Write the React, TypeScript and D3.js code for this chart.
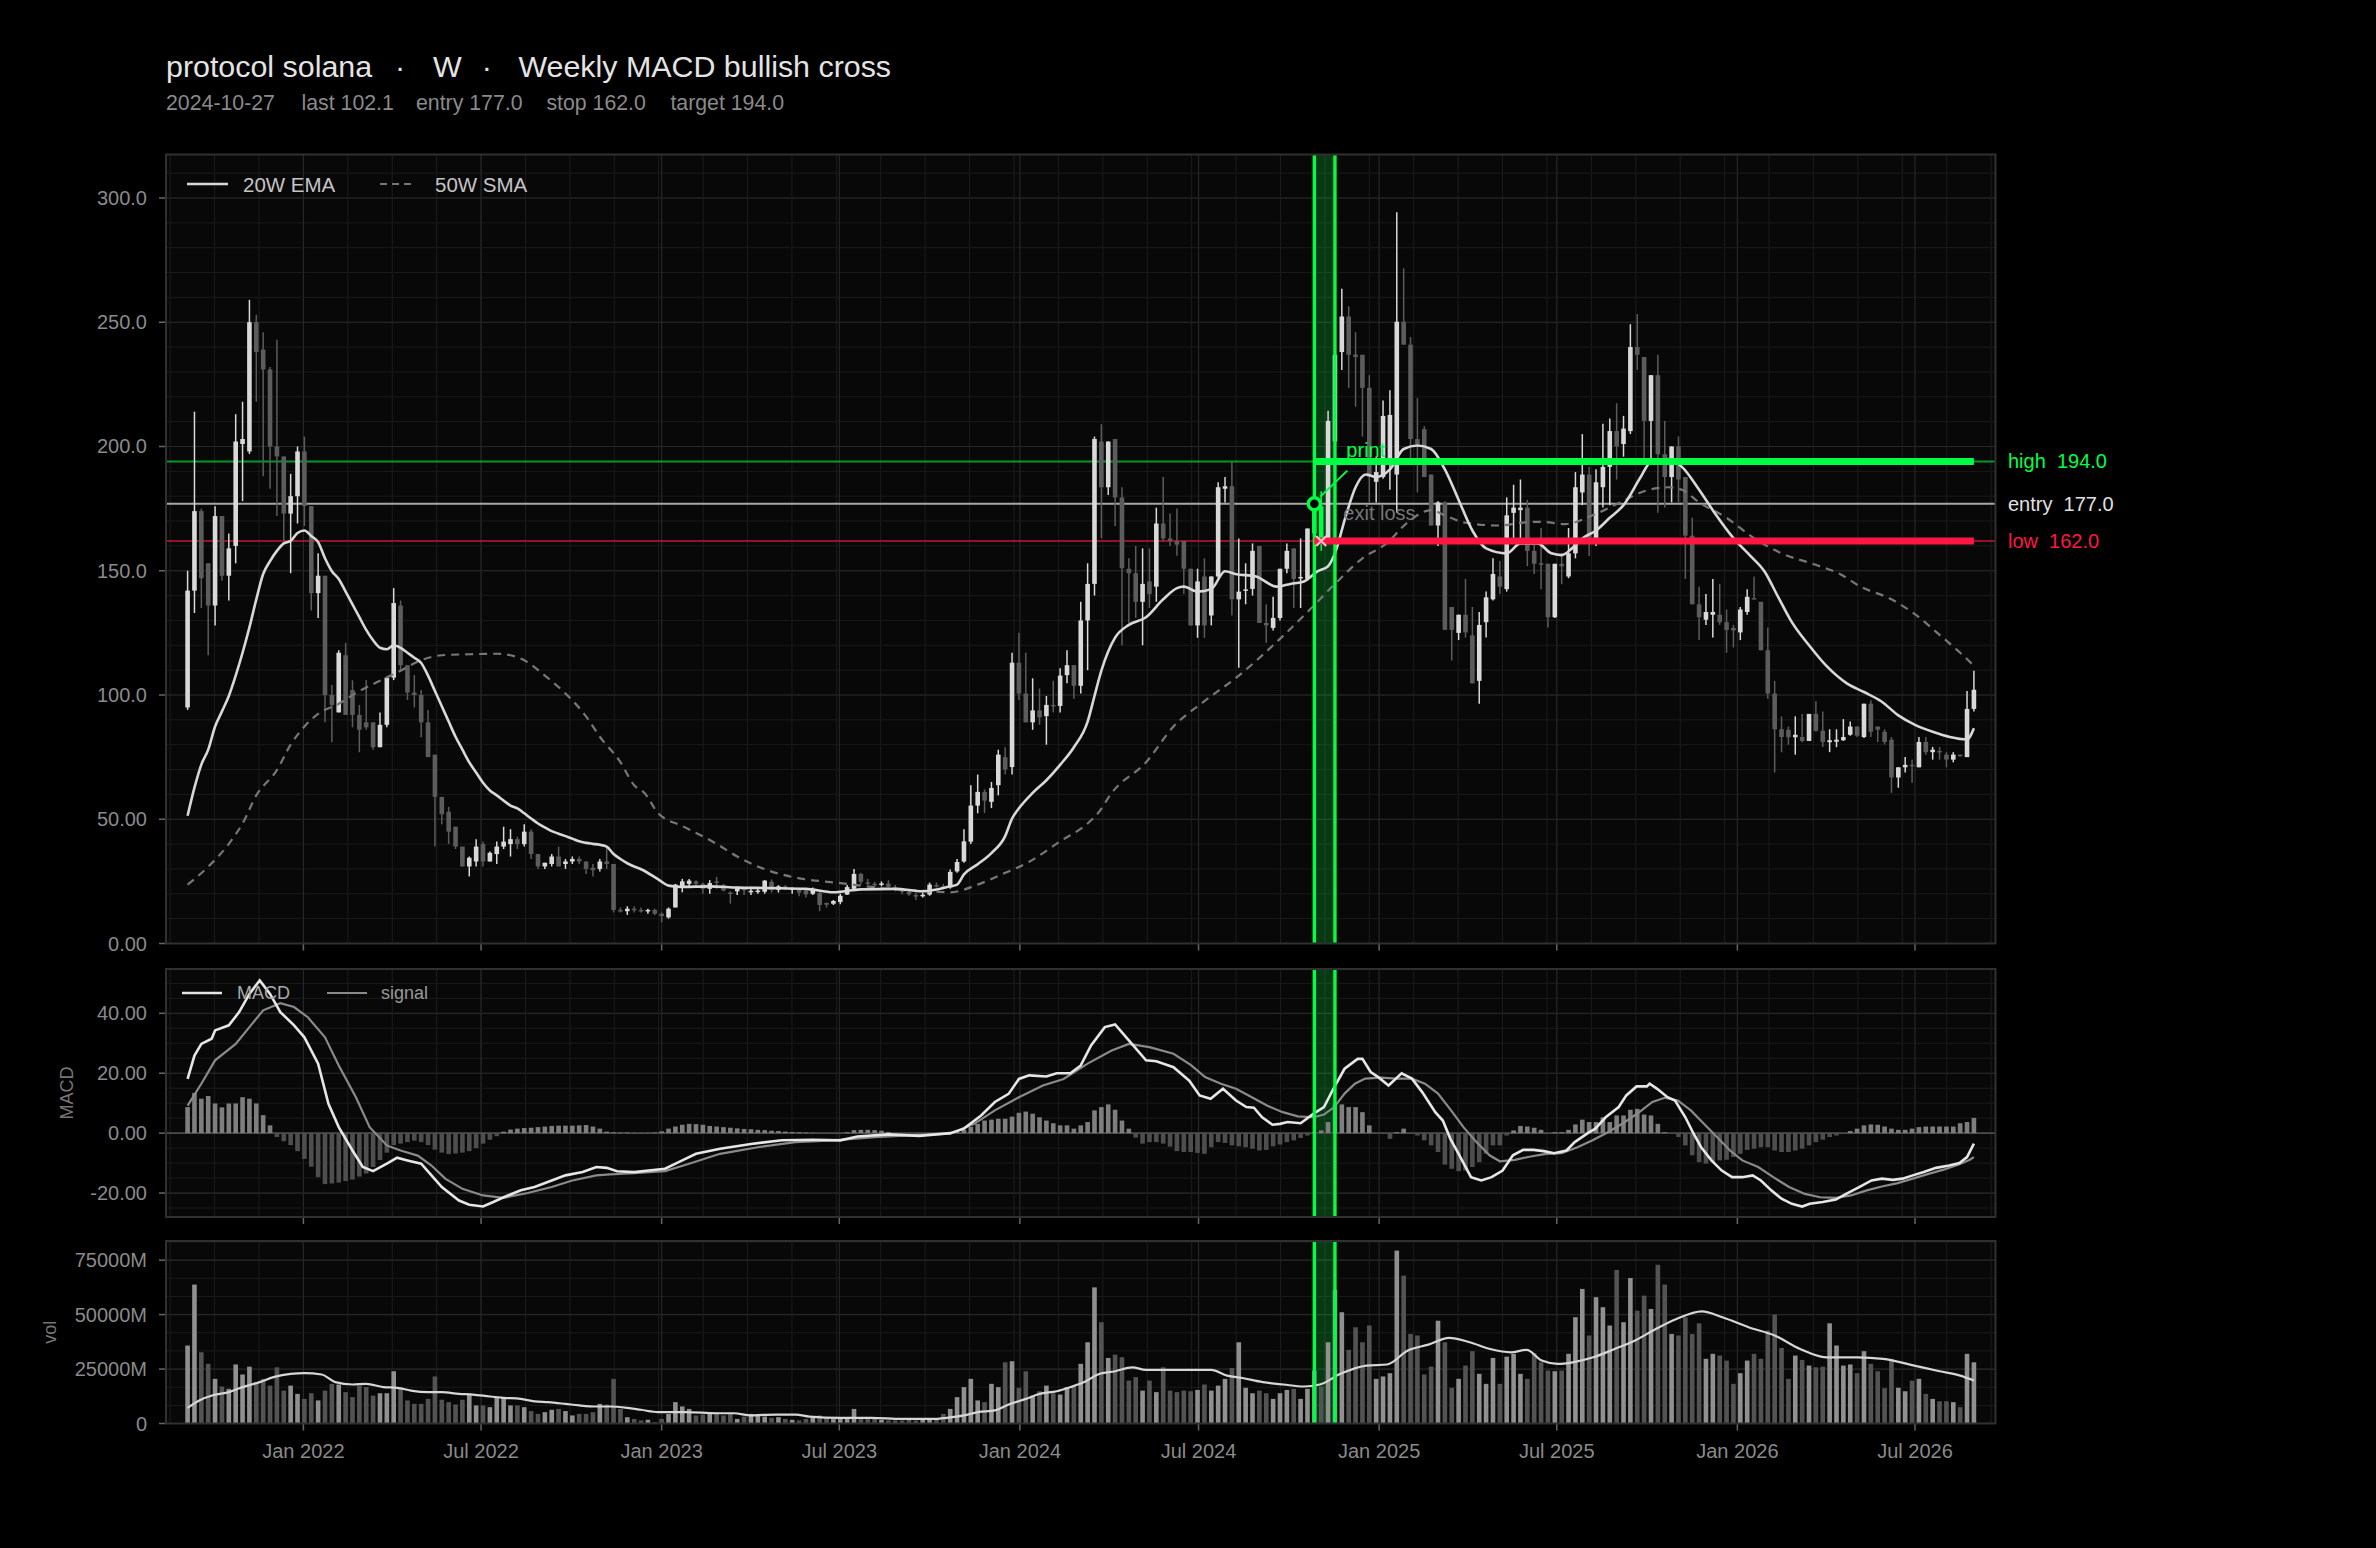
import React, { useEffect, useRef } from "react";
import * as d3 from "d3";

// weekly chart, first candle is the week of 2021-09-05
const FIRST_WEEK = new Date(2021, 8, 5);
const SIGNAL_DATE = new Date(2024, 9, 27);
const BAND_END = new Date(2024, 10, 17);
const X_DOMAIN = [new Date(2021, 7, 14), new Date(2026, 8, 21)];

const titleParts = ["protocol solana", "·", "W", "·", "Weekly MACD bullish cross"];
const subtitleParts = ["2024-10-27", "last 102.1", "entry 177.0", "stop 162.0", "target 194.0"];

// [open, high, low, close]
const candles: [number, number, number, number][] = [
  [95, 150, 94, 142], [142, 214, 133, 174], [174, 175, 135, 147], [153, 153, 116, 136], [136, 176, 128, 172],
  [172, 172, 146, 148], [148, 165, 138, 159], [160, 213, 153, 202], [201, 218, 178, 203], [198, 259, 197, 250],
  [250, 253, 218, 238], [239, 246, 188, 231], [231, 232, 183, 200], [200, 243, 172, 196], [196, 196, 162, 173],
  [173, 189, 149, 180], [180, 200, 169, 198], [198, 204, 168, 176], [176, 176, 134, 141], [141, 157, 131, 148],
  [148, 148, 89, 100], [100, 104, 81, 96], [93, 118, 93, 117], [116, 121, 92, 92], [102, 106, 87, 92],
  [92, 96, 77, 86], [89, 106, 86, 87], [89, 89, 78, 79], [79, 93, 79, 88], [88, 107, 87, 107],
  [107, 143, 106, 137], [136, 138, 110, 112], [112, 112, 98, 101], [101, 108, 95, 100], [100, 102, 83, 89],
  [89, 94, 75, 75], [76, 76, 39, 59], [59, 59, 48, 52], [53, 55, 40, 45], [47, 47, 38, 39],
  [39, 39, 31, 31], [31, 35, 27, 34.5], [33, 42, 31, 39], [40, 41, 31, 33], [33, 37, 33, 36.5],
  [36, 41, 32, 39], [39, 47, 38, 41], [40, 46, 35, 42], [42, 43, 38, 40], [40, 48, 39, 45],
  [45, 46, 34, 36], [36, 36, 30, 31], [31, 32.5, 30, 32.5], [32, 36, 31, 35], [35, 39, 31, 31],
  [32, 34, 30, 33], [33, 35, 32, 34], [34, 35, 32, 33], [33, 33, 28, 30], [30.5, 32, 27, 29.5],
  [30, 34, 29, 33], [33, 39, 30, 32], [32, 32, 12.5, 13.5], [13.5, 14.5, 12.5, 13], [13, 15, 11.5, 14],
  [14, 15, 12.5, 13.5], [13.5, 14.5, 12.5, 13], [13, 14, 12, 13.5], [13.5, 14, 11.5, 12], [12, 12.5, 8.5, 11],
  [10.5, 14.5, 10, 14], [14.5, 24, 14.5, 23.7], [23, 26, 20.6, 25], [24, 26, 22.5, 25.3], [25, 25.5, 23, 24],
  [24, 24.5, 20, 22], [22, 25.5, 20, 24.3], [25, 26.8, 22, 24.5], [23.5, 24, 21, 21.3], [20.5, 21, 16, 20],
  [21, 22.8, 19.5, 22], [22, 22.5, 19.5, 21.7], [21, 22.8, 19.5, 21.2], [21, 22, 20, 21.3], [20.8, 25.5, 20, 25.3],
  [24.8, 25.8, 20.5, 21.6], [21.6, 23.5, 20.5, 23], [23, 23.5, 21.5, 22.5], [22, 22.5, 20, 22.2], [21.5, 22, 19, 20.5],
  [21.2, 21.5, 18.5, 19.8], [20, 22.5, 19.5, 21.8], [20.3, 20.8, 13, 15.5], [16.3, 16.5, 14.5, 15.6], [16, 17.5, 15.5, 17.1],
  [16.7, 20, 15.8, 19.2], [19.7, 23.5, 19.5, 22.7], [22, 30, 21, 28], [28, 28.5, 23.7, 24.8], [24.6, 26, 23.5, 24.2],
  [24, 24.8, 22.8, 23.7], [23.6, 25, 23, 24.2], [24.1, 25.5, 21.6, 22.8], [22.6, 23.5, 21, 21.8], [21.8, 22.3, 19.8, 20.8],
  [20.8, 21.5, 19.2, 19.8], [19.5, 20.5, 17.5, 18.9], [19.1, 20.5, 18.5, 19.6], [19.7, 24.5, 19.2, 23.7], [23.5, 24.5, 22.5, 23.3],
  [23, 24, 21.8, 22.6], [22.6, 29.8, 22, 28.8], [29, 34, 28.5, 32.8], [33, 46, 32.5, 41.1], [41, 63.7, 40, 55.5],
  [55.5, 68, 52.4, 61], [61, 62, 52.5, 57.5], [57, 65, 54.5, 62.6], [63.7, 78, 59.6, 76], [75, 79, 68, 70],
  [71, 117, 68, 113], [113, 125, 98, 100.6], [100.6, 117, 89, 89], [89, 106.7, 86, 93.8], [93.8, 102.6, 88, 91],
  [91.5, 99.6, 80, 96], [96, 105.7, 93, 95.5], [95.6, 110.8, 93, 107.8], [108, 118, 104.7, 112], [112, 112, 98.5, 103.7],
  [103.7, 137.5, 100.6, 130], [130, 153, 110, 144.7], [144.7, 204, 140, 203], [202, 209, 163, 183.6], [183.6, 202, 180.5, 202],
  [203, 203, 168, 179.5], [179.5, 183.6, 120, 151], [150.8, 155, 129, 149], [149, 160, 131, 137.5], [137.5, 159, 120, 144.7],
  [145.7, 159, 135, 140.6], [143.6, 175.4, 137.5, 169], [169, 187.7, 162, 163], [163, 173, 160, 162], [162, 175, 156, 160.5],
  [162, 162, 140.6, 150.8], [150.8, 150.8, 128, 128], [128, 150.8, 123, 145.7], [147.7, 155, 123, 128], [132, 147.7, 128, 147.7],
  [147.7, 185.6, 147, 183.6], [183, 187.7, 177.5, 184], [184, 194, 132, 138.5], [138.5, 163, 111, 141.6], [142, 153, 136.5, 142.5],
  [142.7, 161, 140, 158], [160, 160, 129, 129], [129, 136.5, 121, 128], [127, 139.5, 126, 131], [131, 150.8, 130, 150.8],
  [150.8, 161, 149, 158], [159, 159, 135, 146.7], [147, 163, 135, 147.5], [146.7, 167, 146, 167], [165, 178, 163, 177],
  [176, 182, 158, 163], [163, 214.4, 161, 210.3], [202, 241, 201, 236.9], [238, 263.5, 230.8, 252.3], [252.3, 256.4, 223.6, 236.9],
  [237, 246, 216, 236], [236.9, 236.9, 204, 223.6], [223.6, 228.7, 177.5, 187.7], [185.8, 196, 177.5, 189.7], [187.7, 218.5, 187, 212.3],
  [193.9, 222.6, 182.6, 212.7], [188.7, 294.3, 173.3, 250.2], [250.2, 271.7, 241, 241], [241, 244, 193.9, 203], [203, 219.5, 181.5, 201],
  [207, 208.2, 187.7, 187.7], [188.7, 188.7, 168.2, 168.2], [168.2, 178, 160, 177.5], [177.5, 178, 126.2, 126.2], [135.4, 135.4, 113.9, 126.2],
  [125, 132.3, 122.1, 132.3], [132.3, 146.7, 123.1, 125.2], [124, 135.4, 104.7, 104.7], [105.7, 133.4, 96.5, 128.2], [129.3, 141.6, 123.1, 139.3],
  [138.5, 155, 138, 148.7], [147.7, 153.9, 140.6, 143.6], [142.6, 179.5, 141.6, 172.3], [173.3, 184.6, 163.1, 175.4], [174.4, 186.7, 161, 175.4],
  [175.4, 178.5, 151.8, 158], [158, 161, 148.7, 152.8], [153, 167.2, 142.6, 152.5], [152.8, 152.8, 127.2, 131.3], [131.3, 152.8, 131, 152.8],
  [152.8, 157, 144.6, 151.8], [147.7, 167.2, 147, 157], [157, 189.7, 155, 183.6], [181.5, 205, 176.4, 188.7], [188.7, 191.8, 155.9, 163.1],
  [163.1, 190.8, 160, 185.6], [183.6, 209.2, 175.4, 191.8], [191.8, 211.3, 176.4, 206.2], [206.2, 217.4, 186.7, 200], [201, 212.3, 195.9, 207.2],
  [206.2, 249.2, 205, 240], [240, 253.3, 230.8, 236.9], [236, 236, 193.9, 210.3], [210.3, 228.7, 193.9, 228.7], [228.7, 236.9, 173.3, 196.9],
  [196.9, 210.3, 175.4, 187.7], [187.7, 200, 177.5, 200], [200, 204.1, 177.5, 186.7], [187.7, 187.7, 146.7, 164.1], [164.1, 171.3, 136.5, 136.5],
  [136.5, 143.6, 122.1, 131.3], [130.3, 140.6, 128.2, 133.4], [132.3, 146.7, 123.1, 133.4], [132.3, 144.7, 128.2, 129.3], [129.3, 134.4, 117, 126.2],
  [127, 128.2, 119.1, 126], [125.2, 135.4, 122.1, 134.4], [133.4, 142.6, 132.3, 139.5], [139, 147.7, 138.5, 138.5], [137.5, 137.5, 118, 118],
  [118, 127.2, 98.5, 100.6], [100.6, 105.7, 68.8, 86.2], [86.2, 91.4, 77, 83.1], [86, 87.3, 80, 83], [83, 91.4, 76, 84],
  [83.1, 92.4, 81, 81.5], [81.5, 92.4, 81.5, 92.4], [92.4, 97.5, 85.2, 85.6], [85.6, 93.4, 79.1, 81.1], [81, 86.2, 77, 81.8],
  [81.2, 86.2, 79, 82], [81.8, 90.3, 81.5, 83.1], [84, 89.3, 83.6, 87.3], [87.3, 87.3, 83.1, 83.6], [83.1, 96.5, 82.7, 96.5],
  [96.5, 97.9, 83.1, 85.2], [87.3, 87.3, 81.1, 86], [85.2, 86.2, 80.1, 81.1], [82, 83.1, 60.6, 66.8], [66.8, 70.9, 62.7, 70.9],
  [70.9, 75, 68.8, 71.9], [71.9, 73.9, 64.7, 71.5], [70.9, 83.1, 70.9, 81.1], [81.1, 83.1, 76, 77], [77, 79.1, 74, 78],
  [77.5, 79.1, 74, 77], [76, 77, 70.9, 74], [74, 77, 72.9, 76], [76, 76, 75, 75.5], [75, 101.6, 75, 94.4],
  [94.4, 109.8, 93.4, 102.1],
];

// weekly volume, millions
const volumes = [
  35800, 63800, 32700, 27400, 20500, 17000, 15900, 27100, 22500, 26100,
  19000, 20500, 17400, 25800, 15100, 17400, 13600, 11300, 13900, 10600,
  15100, 18200, 17900, 14400, 12100, 17400, 16700, 12800, 13900, 13900,
  24000, 16700, 10600, 9000, 9000, 11300, 21600, 10900, 9800, 8700,
  10900, 13600, 8300, 8300, 7500, 11800, 11800, 8300, 8300, 7500,
  5700, 4400, 5200, 6300, 6700, 5700, 3700, 4400, 4400, 5200,
  9000, 8700, 20500, 6700, 2900, 2100, 1400, 1700, 600, 2100,
  4400, 9800, 7800, 6700, 3700, 4100, 5200, 5200, 3700, 4400,
  2100, 3200, 4400, 3700, 3200, 2600, 2900, 2100, 1700, 1400,
  2100, 2600, 3700, 2900, 2100, 2900, 2900, 6700, 2100, 2600,
  2100, 1700, 1400, 1400, 1400, 1700, 1400, 2100, 1700, 2100,
  4400, 6700, 12100, 16700, 20500, 10600, 9800, 18200, 16700, 28100,
  28600, 16400, 24000, 12800, 14800, 17400, 13900, 13300, 16700, 17000,
  27400, 37300, 62500, 46500, 30100, 31600, 30400, 19700, 21300, 15100,
  19700, 14400, 25800, 15100, 14400, 15100,
  14800, 15400, 17900, 15100, 17400, 20500, 25500, 37300, 16400, 13900,
  15100, 13900, 11300, 13900, 15400, 15900, 11300, 15900, 24300, 17000,
  37300, 61300, 51100, 33800, 44200, 37300, 45000, 20500, 21600, 23100,
  79400, 67900, 41100, 40400, 22500, 26100, 47200, 37300, 16400, 20500,
  26600, 33200, 22800, 18200, 30100, 18200, 30700, 32000, 22800, 20500,
  32300, 28100, 24300, 24000, 24300, 32000, 48800, 61800, 40400, 58000,
  53400, 45000, 70500, 46500, 66800, 51800, 58700, 52600, 72900, 63800,
  41100, 40400, 48800, 41100, 46000, 29700, 32000, 31200, 28900, 18200,
  23100, 28900, 32000, 29700, 42700, 50000, 34700, 20500, 31200, 29200,
  26600, 25800, 26100, 46000, 35800, 26600, 27100, 23100, 33200, 27400,
  24000, 16200, 29700, 16400, 14800, 19700, 20500, 13600, 11300, 10200,
  10200, 9800, 7500, 32000, 28100,
];

const histogram = [
  8.7, 13.4, 11.5, 12.4, 9.9, 8.6, 9.9, 9.9, 12, 11.5,
  9.9, 6, 2.6, -1.3, -2.7, -4, -6, -8.6, -11.2, -14.7,
  -17, -16.8, -16.5, -16, -15.5, -14.5, -13.5, -11.3, -9, -6.5,
  -4, -3.5, -3, -2.5, -3, -4, -5.5, -6.5, -7, -6.8,
  -6.5, -6, -5, -3.5, -2.2, -1, 0.5, 1.2, 1.5, 1.7,
  1.8, 2, 2.2, 2.4, 2.5, 2.5, 2.5, 2.6, 2.7, 2.2,
  1.5, 0.5, 0.3, 0.2, 0.2, 0.1, 0.1, 0.1, 0.2, 0.6,
  1.5, 2.2, 2.8, 3.1, 3, 2.8, 2.4, 2.2, 2, 1.8,
  1.6, 1.4, 1.3, 1.1, 1, 0.8, 0.7, 0.5, 0.4, 0.3,
  0.2, 0.1, 0, 0, 0, 0, 0.3, 1, 1.1, 1.1,
  1, 0.8, 0.4, -0.2, -0.3, -0.4, -0.4, -0.5, -0.3, -0.2,
  -0.1, 0.1, 0.4, 1.1, 2.1, 3.1, 4.2, 4.5, 4.8, 4.8,
  5.5, 6.8, 7.2, 6.5, 5.3, 4.2, 3.3, 2.6, 2.6, 1.5,
  2.6, 3.7, 7.6, 8.7, 9.6, 7.8, 4.2, 1.5, -1.5, -3.5,
  -3, -3, -3.5, -4.5, -6, -6.3,
  -6.3, -6.6, -6.9, -4.7, -3, -3.3, -4.1, -4.4, -4.7, -5.2,
  -5.8, -5.6, -4.4, -3.8, -3, -2.4, -1.6, -0.8, 0.3, 0.9,
  3.7, 9.8, 9.6, 8.7, 8.7, 7, 2.6, 0, 0, -1.9,
  0.3, 1.5, -0.2, -0.8, -2.4, -4.1, -6.3, -10.5, -11.9, -12.7,
  -12.5, -11.3, -9.7, -6.9, -4.1, -4.1, -0.8, 0.9, 2.4, 2.2,
  1.8, 1.1, 0, 0.3, 0.3, 1.1, 2.9, 4.5, 3.7, 3.7,
  5.3, 3.7, 5.9, 5.9, 7.8, 8.1, 6.2, 5.9, 3.1, 0.3,
  0, -1.3, -4.1, -7.4, -9.7, -10.2, -9.7, -9.1, -8.9, -8,
  -6.9, -5.6, -5.2, -4.7, -4.7, -5.8, -6.3, -6.3, -5.8, -5.2,
  -4.1, -3, -2.2, -1.3, -0.8, 0, 0.7, 1.5, 2.6, 2.9,
  2.8, 2.2, 1.5, 1.1, 1.1, 1.5, 2, 2.2, 2.2, 2.2,
  2.2, 2.2, 3.3, 3.7, 5.1,
];

// [week index, value]
const ema20: [number, number][] = [
  [0, 51.4], [1, 62.7], [2, 72], [3, 78], [4, 87.3], [5, 93.4], [6, 99.6], [7, 107.8], [8, 117], [9, 127.2],
  [10, 138.5], [11, 148.7], [12, 153.9], [13, 158], [14, 161], [15, 162], [16, 165.2], [17, 166.2], [18, 164], [19, 161.5],
  [20, 155], [21, 149.8], [22, 146.7], [23, 141.6], [24, 136.5], [25, 131.3], [26, 126.2], [27, 122], [28, 119], [29, 118.4],
  [30, 120], [31, 119], [32, 117], [33, 115], [34, 112.9], [35, 107.8], [36, 101.6], [37, 95.5], [38, 89.3], [39, 83.2],
  [40, 78], [41, 72.9], [42, 68.8], [43, 64.7], [44, 61.6], [45, 59.6], [46, 57.5], [47, 55.5], [48, 54.4], [49, 52.4],
  [50, 50.3], [51, 48.3], [52, 46.7], [53, 45.2], [54, 44.2], [55, 43.2], [56, 42.2], [57, 41.1], [58, 40.5], [59, 40.1],
  [60, 39.7], [61, 39], [62, 36], [63, 34], [64, 32.3], [65, 31], [66, 29.9], [68.5, 25.8], [70, 23.3], [72, 22.8],
  [76, 23], [80, 22.5], [85, 22.3], [90, 22], [94, 20.6], [98, 21.8], [103, 22], [107, 21], [111, 23], [112, 23.7],
  [113, 27.8], [115, 31.9], [117, 36.4], [119, 43.2], [120, 50.3], [121, 54.4], [123, 60.6], [125, 65.7], [127, 71.9], [129, 79],
  [131, 89.3], [132, 99.6], [133, 109.8], [135, 123.1], [137, 128.2], [139.5, 131.3], [142, 138.5], [144, 143], [145, 143.6], [147, 141.6],
  [149, 142.6], [151, 149.8], [152.5, 148.7], [155.5, 147.7], [158.5, 143.6], [160.5, 144.7], [162.5, 145.7], [164.5, 149.8], [166, 151.8], [167, 157],
  [168.5, 171.3], [170, 183.6], [171.5, 188.7], [173, 187.7], [175, 190.8], [177, 199], [179, 200.4], [181, 199], [183, 190.8], [185, 178.5],
  [187, 166.2], [189, 159], [192, 157], [194, 161], [196.5, 161], [198.5, 157], [200, 156.3], [201.5, 159], [203, 163], [205, 166.2],
  [207, 171.3], [209, 176.4], [211.5, 187.7], [213, 193.9], [215.5, 194.9], [217.5, 191.8], [220, 182.6], [222.5, 172.3], [225, 163.1], [227.5, 155.9],
  [229.5, 149.8], [231.5, 139.5], [233.5, 129.3], [236, 120], [238.5, 111.8], [241.5, 104.7], [244, 101.2], [246.5, 97.5], [249, 91.8], [251.5, 87.9],
  [254, 85.2], [256.5, 83.1], [259, 82.1], [260, 86.6],
];

const sma50: [number, number][] = [
  [0, 23.7], [3, 30.9], [6, 40.1], [8, 48.3], [10, 59.6], [13, 69.8], [15, 80], [17, 87.3], [19, 92.4], [22, 96.5],
  [25, 101.6], [28, 105.7], [31, 109.8], [34, 114], [37, 116], [41, 116.4], [45, 116.6], [47, 116], [49, 114], [52, 107.8],
  [55, 100.6], [58, 91.4], [60, 83.2], [63, 73], [65, 63.7], [66.5, 60.6], [68.5, 52.4], [72, 47.3], [77, 40.1], [80, 35],
  [84, 29.9], [88, 26.8], [95, 24.3], [98, 23.3], [102, 22], [107, 21.2], [111, 20.6], [115, 23.7], [118.5, 27.8], [122.5, 32.9],
  [127, 41.1], [131, 48.3], [132.5, 52.4], [134.5, 60.6], [139.5, 72.9], [143.5, 87.3], [148, 97.5], [153, 107.8], [158, 120], [163, 133.4],
  [167, 144.7], [171, 155], [174.5, 161], [177.5, 169.3], [181, 174.4], [183, 172.3], [186, 169.3], [191, 168.2], [194, 169.3], [197, 169.7],
  [200.5, 168.8], [204.5, 172.3], [208.5, 177.5], [212, 182], [215.5, 183.6], [217.5, 182.6], [220, 177.5], [224, 171.3], [228, 163.1], [232, 157],
  [236.5, 152.8], [240.5, 148.7], [243.5, 143.6], [248, 138.5], [251.5, 132.3], [255, 124.2], [258, 117], [260, 111.8],
];

const macdLine: [number, number][] = [
  [0, 18.1], [1, 25.9], [2, 29.8], [3.5, 31.5], [4, 34.3], [6, 36], [7.5, 40.4], [9, 46.5], [10.5, 51], [12, 46.5],
  [13.5, 40.4], [15.5, 36], [17, 32], [19, 23.2], [20.5, 9.8], [22, 2], [24, -5.8], [25.5, -11.3], [27, -12.7], [29, -10.2],
  [30.5, -8.2], [32, -9.1], [34, -10.2], [35.5, -14.1], [37, -18], [39.5, -22.5], [41, -23.9], [43, -24.5], [44.5, -23], [46, -21.4],
  [48.5, -19.1], [50.5, -18], [53, -15.8], [55, -14.1], [57.5, -13], [59.5, -11.3], [61, -11.6], [62.5, -12.7], [65, -13], [69.5, -11.9],
  [72, -9.1], [74, -6.9], [77.5, -5.2], [82, -3.6], [86.5, -2.4], [91, -2.2], [95, -2.4], [97.5, -1.1], [102, -0.4], [106.5, -0.9],
  [111, 0], [113, 1.5], [115.5, 5.9], [117.5, 10.4], [119.5, 13.1], [121, 18.1], [122.5, 19.3], [125, 18.9], [126.5, 20], [128.5, 20],
  [130, 22.6], [131.5, 29.3], [133.5, 35.4], [135, 36.3], [137, 31], [139.5, 24.3], [141, 24], [143.5, 22], [145.8, 17.5], [147.3, 12.6],
  [148.9, 11.5], [150.7, 14.8], [152.6, 10.9], [154.1, 8.7], [155.2, 8.5], [156.4, 5.3], [157.9, 2.8], [159, 3.1], [160.1, 3.7], [162, 3.3],
  [163.9, 6.5], [165.4, 8.7], [166.9, 15.4], [168.4, 21.5], [170.3, 24.8], [171, 24.8], [172.2, 20.4], [173.3, 18.7], [174.8, 15.9], [176.7, 20],
  [178.2, 18.2], [179.7, 13.7], [181.6, 7], [182.7, 4.2], [183.8, -1.9], [185, -6.9], [186.8, -14.7], [188.3, -15.8], [189.8, -14.7], [191.4, -12.5],
  [192.9, -7.4], [194.4, -5.6], [195.9, -5.6], [197.4, -6], [198.9, -6.7], [200.7, -5.8], [201.9, -3], [203.8, 0], [204.9, 1.5], [206.4, 5.3],
  [208.3, 8.7], [209.4, 12.6], [210.9, 15.6], [212.4, 15.6], [212.8, 16.5], [213.9, 14.8], [215.4, 12], [216.5, 10.9], [218, 5.3], [219.2, -0.2],
  [220.3, -4.7], [221.8, -9.1], [223.3, -12.5], [224.8, -14.7], [226.3, -14.7], [227.8, -14.1], [229, -15.8], [230.5, -19.1], [232, -21.9], [233.5, -23.6],
  [235, -24.5], [236.1, -23.6], [238, -23], [239.9, -22.2], [241.4, -20.3], [243.3, -18], [245.1, -15.8], [246.6, -15.2], [248.2, -15.6], [249.6, -15.2],
  [251.1, -14.1], [252.7, -13], [254.5, -11.6], [256.4, -10.8], [257.9, -10], [259, -8], [260, -3.5],
];

const signalLine: [number, number][] = [
  [0, 9.2], [2, 16.5], [4, 24.3], [7, 29.8], [9, 35.4], [11, 41], [13.5, 43.4], [15.5, 42.1], [17.5, 38.7], [20, 32],
  [22, 22.6], [24.5, 12], [26.5, 2], [29, -4.1], [31, -5.8], [33.5, -7.5], [35.5, -10.8], [37.5, -15.2], [40, -18.6], [43, -20.8],
  [46, -21.6], [49.5, -20], [53, -18], [56, -15.8], [59.5, -14.1], [61.5, -13.8], [65, -13.4], [69.5, -12.7], [73, -10.2], [77.5, -6.9],
  [83, -4.7], [88.5, -3], [94, -2.4], [100, -1.3], [106.5, -0.6], [111, -0.2], [114.5, 3.1], [117.5, 7.6], [121, 12], [124.5, 15.9],
  [127.5, 18.1], [131, 23.2], [134.5, 27.6], [137, 29.8], [140, 28.7], [143.5, 26.5], [146, 22.8], [148.1, 18.7], [150.4, 16.5], [152.6, 14.8],
  [154.9, 12], [157.1, 9.2], [159.4, 7], [161.6, 5.6], [163.9, 5.3], [165.4, 6.2], [166.9, 8.7], [168.4, 13.2], [169.9, 16.5], [171.4, 18.2],
  [173.7, 18.5], [175.9, 18.2], [178.2, 18.2], [180.1, 16.5], [182, 13.2], [183.9, 7.6], [185.7, 2], [187.6, -3], [189.5, -7.4], [191, -9.4],
  [193.2, -8.9], [195.5, -7.8], [197.7, -6.9], [200, -6.7], [202.3, -4.7], [204.5, -2.4], [206.8, 0.4], [209, 3.4], [211.3, 7], [213.2, 10.4],
  [215, 11.8], [216.9, 10.9], [218.8, 7.6], [220.7, 3.1], [222.6, -1.3], [224.5, -5.8], [226.3, -9.1], [228.6, -11.3], [230.8, -14.7], [233.1, -18],
  [235.4, -20.3], [237.6, -21.4], [239.9, -21.6], [242.1, -20.8], [244.4, -19.1], [246.6, -17.8], [248.9, -16.7], [251.1, -15.2], [253.4, -13.6], [255.6, -12.2],
  [257.9, -10.4], [259.4, -8.9], [260, -8],
];

const volMA: [number, number][] = [
  [0, 7200], [1.7, 10600], [3.8, 13100], [6, 14400], [8, 16700], [10.5, 19000], [12.5, 21300], [15, 22800], [17, 23100], [19.5, 22500],
  [21.5, 19000], [24, 17900], [26, 18200], [28.5, 16700], [30.5, 16400], [32.5, 15100], [35, 14400], [37, 14400], [39.5, 13600], [41.5, 13300],
  [44, 12400], [46, 11800], [48.5, 11300], [50.5, 10200], [52.5, 9800], [55, 9000], [57, 8300], [59.5, 7800], [61.5, 7800], [64, 7200],
  [66, 6300], [68.5, 5200], [72.5, 5200], [77, 4700], [79.5, 4700], [82, 3700], [84, 4000], [88.5, 4100], [90.5, 3200], [95, 2600],
  [99.5, 2600], [104, 2100], [108.5, 2100], [110.5, 2600], [113, 3700], [115, 5200], [117.5, 6000], [119.5, 8700], [122, 11300], [124, 13600],
  [126.5, 14800], [128.5, 16700], [130.5, 19000], [132.5, 22500], [135, 24000], [137.5, 25800], [139.5, 24600], [143, 24600], [146, 24600], [149, 24600],
  [151.3, 22000], [153.5, 20900], [156.5, 19000], [159.5, 17900], [162.5, 17000], [164.8, 17900], [167.8, 22800], [171.6, 26600], [174.6, 27100], [177.6, 33500],
  [180.6, 36200], [183.6, 39300], [186.6, 37300], [189.6, 34200], [192.6, 32700], [194.9, 33800], [197.1, 28900], [199.4, 27400], [201.6, 28100], [204.6, 30400],
  [207.7, 34200], [210.7, 38100], [213.7, 43400], [216.7, 48000], [220.4, 51500], [223.4, 48800], [227.2, 44200], [231, 40400], [234.7, 34200], [238.5, 30400],
  [243, 30400], [246.8, 29700], [251.3, 26600], [255, 24000], [258, 22000], [260, 19700],
];

const tradeWeeks = [164, 165]; // entry week and stop-out week
const levelNames = ["high", "entry", "low"];
const levelValues = [194, 177, 162];
const entryWeek = 164;
const exitWeek = 165;
const lastWeek = 260;

const priceTicks = [0, 50, 100, 150, 200, 250, 300];
const priceTickLabels = ["0.00", "50.00", "100.0", "150.0", "200.0", "250.0", "300.0"];
const macdTicks = [-20, 0, 20, 40];
const macdTickLabels = ["-20.00", "0.00", "20.00", "40.00"];
const volTicks = [0, 25000, 50000, 75000];
const volTickLabels = ["0", "25000M", "50000M", "75000M"];
const timeTicks = ["2022-01-01", "2022-07-01", "2023-01-01", "2023-07-01", "2024-01-01", "2024-07-01", "2025-01-01", "2025-07-01", "2026-01-01", "2026-07-01"];
const timeTickLabels = ["Jan 2022", "Jul 2022", "Jan 2023", "Jul 2023", "Jan 2024", "Jul 2024", "Jan 2025", "Jul 2025", "Jan 2026", "Jul 2026"];

const W = 2376;
const H = 1548;
const LEFT = 166;
const RIGHT = 1995.5;
const FONT = "'Liberation Sans', Arial, Helvetica, sans-serif";
// header text placement
const TITLE_X = [166, 400, 433, 486.7, 518.4];
const SUBTITLE_X = [166, 301.5, 416, 546.4, 670.4];

const weekDate = (i: number) => new Date(FIRST_WEEK.getTime() + i * 7 * 86400000);
const parseDay = (s: string) => {
  const [y, m, d] = s.split("-").map(Number);
  return new Date(y, m - 1, d);
};

const App = () => {
  const svgRef = useRef<SVGSVGElement | null>(null);

  useEffect(() => {
    document.body.style.margin = "0";
    document.body.style.background = "#000";

    const svg = d3.select(svgRef.current);
    svg.selectAll("*").remove(); // clear prev
    svg.attr("width", W).attr("height", H).style("font-family", FONT);

    svg.append("rect").attr("width", W).attr("height", H).attr("fill", "#000");

    const x = d3.scaleTime().domain(X_DOMAIN).range([LEFT, RIGHT]);
    const tickDates = timeTicks.map(parseDay);
    // minor vertical grid, evenly spaced from Jan 2022
    const jan22 = new Date(2022, 0, 1).getTime();
    const gridDates = d3
      .range(-4, 42)
      .map((k) => new Date(jan22 + k * 45.25 * 86400000))
      .filter((d) => d >= X_DOMAIN[0] && d <= X_DOMAIN[1]);

    const yPrice = d3.scaleLinear().domain([0, 317.5]).range([943.5, 154.5]);
    const yMacd = d3.scaleLinear().domain([-28, 54.8]).range([1217, 969]);
    const yVol = d3.scaleLinear().domain([0, 83800]).range([1423.5, 1241]);

    const panels = [
      { y: yPrice, ticks: priceTicks, labels: priceTickLabels, minor: d3.range(0, 318, 10) },
      { y: yMacd, ticks: macdTicks, labels: macdTickLabels, minor: d3.range(-25, 55, 5) },
      { y: yVol, ticks: volTicks, labels: volTickLabels, minor: d3.range(0, 83800, 25000 / 3) },
    ];

    // frames + grid
    panels.forEach((p) => {
      const [bottom, top] = p.y.range();
      const g = svg.append("g");
      g.append("rect")
        .attr("x", LEFT)
        .attr("y", top)
        .attr("width", RIGHT - LEFT)
        .attr("height", bottom - top)
        .attr("fill", "#080808");

      g.append("g")
        .selectAll("line")
        .data(p.minor)
        .join("line")
        .attr("x1", LEFT)
        .attr("x2", RIGHT)
        .attr("y1", (d) => p.y(d))
        .attr("y2", (d) => p.y(d))
        .attr("stroke", "#1a1a1a")
        .attr("stroke-width", 1);

      g.append("g")
        .selectAll("line")
        .data(gridDates)
        .join("line")
        .attr("x1", (d) => x(d))
        .attr("x2", (d) => x(d))
        .attr("y1", top)
        .attr("y2", bottom)
        .attr("stroke", "#1c1c1c")
        .attr("stroke-width", 1);

      g.append("g")
        .selectAll("line")
        .data(p.ticks)
        .join("line")
        .attr("x1", LEFT)
        .attr("x2", RIGHT)
        .attr("y1", (d) => p.y(d))
        .attr("y2", (d) => p.y(d))
        .attr("stroke", "#272727")
        .attr("stroke-width", 1.2);

      g.append("g")
        .selectAll("line")
        .data(tickDates)
        .join("line")
        .attr("x1", (d) => x(d))
        .attr("x2", (d) => x(d))
        .attr("y1", top)
        .attr("y2", bottom)
        .attr("stroke", "#262626")
        .attr("stroke-width", 1.2);

      // y ticks
      g.append("g")
        .selectAll("line")
        .data(p.ticks)
        .join("line")
        .attr("x1", LEFT - 7)
        .attr("x2", LEFT)
        .attr("y1", (d) => p.y(d))
        .attr("y2", (d) => p.y(d))
        .attr("stroke", "#666")
        .attr("stroke-width", 1.5);

      g.append("g")
        .selectAll("text")
        .data(p.ticks)
        .join("text")
        .attr("x", LEFT - 19)
        .attr("y", (d) => p.y(d))
        .attr("text-anchor", "end")
        .attr("dominant-baseline", "central")
        .attr("font-size", 20)
        .attr("fill", "#8a8a8a")
        .text((_, i) => p.labels[i]);

      // x ticks under each panel
      g.append("g")
        .selectAll("line")
        .data(tickDates)
        .join("line")
        .attr("x1", (d) => x(d))
        .attr("x2", (d) => x(d))
        .attr("y1", bottom)
        .attr("y2", bottom + 7)
        .attr("stroke", "#666")
        .attr("stroke-width", 1.5);
    });

    // x labels under volume panel
    svg
      .append("g")
      .selectAll("text")
      .data(tickDates)
      .join("text")
      .attr("x", (d) => x(d))
      .attr("y", 1451)
      .attr("text-anchor", "middle")
      .attr("dominant-baseline", "central")
      .attr("font-size", 20)
      .attr("fill", "#8a8a8a")
      .text((_, i) => timeTickLabels[i]);

    // signal band (behind data)
    const bandX0 = x(SIGNAL_DATE);
    const bandX1 = x(BAND_END);
    panels.forEach((p) => {
      const [bottom, top] = p.y.range();
      svg
        .append("rect")
        .attr("x", bandX0)
        .attr("y", top)
        .attr("width", bandX1 - bandX0)
        .attr("height", bottom - top)
        .attr("fill", "#00ff44")
        .attr("opacity", 0.2);
    });

    const upColor = "#d9d9d9";
    const downColor = "#5c5c5c";
    const green = "#00ff44";
    const red = "#ff1744";
    const levelColor = [green, "#d0d0d0", red];

    // thin level lines across the panel
    svg
      .append("g")
      .selectAll("line")
      .data(levelValues)
      .join("line")
      .attr("x1", LEFT)
      .attr("x2", RIGHT)
      .attr("y1", (d) => yPrice(d))
      .attr("y2", (d) => yPrice(d))
      .attr("stroke", (_, i) => levelColor[i])
      .attr("stroke-opacity", (_, i) => (i === 1 ? 0.8 : 0.58))
      .attr("stroke-width", 2);

    // candles
    const cg = svg.append("g");
    const bodyW = 4.6;
    candles.forEach(([o, h, l, c], i) => {
      const cx = x(weekDate(i));
      const col = tradeWeeks.includes(i) ? green : c >= o ? upColor : downColor;
      cg.append("line")
        .attr("x1", cx)
        .attr("x2", cx)
        .attr("y1", yPrice(h))
        .attr("y2", yPrice(l))
        .attr("stroke", col)
        .attr("stroke-width", 1.5);
      const y0 = yPrice(Math.max(o, c));
      const bh = Math.max(1.5, Math.abs(yPrice(o) - yPrice(c)));
      cg.append("rect")
        .attr("x", cx - bodyW / 2)
        .attr("y", y0)
        .attr("width", bodyW)
        .attr("height", bh)
        .attr("fill", col);
    });

    const lineOf = (y: d3.ScaleLinear<number, number>, curve: d3.CurveFactory) =>
      d3
        .line<[number, number]>()
        .x((d) => x(weekDate(d[0])))
        .y((d) => y(d[1]))
        .curve(curve);

    svg
      .append("path")
      .attr("d", lineOf(yPrice, d3.curveMonotoneX)(sma50))
      .attr("fill", "none")
      .attr("stroke", "#777")
      .attr("stroke-width", 2.2)
      .attr("stroke-dasharray", "8,6");

    svg
      .append("path")
      .attr("d", lineOf(yPrice, d3.curveMonotoneX)(ema20))
      .attr("fill", "none")
      .attr("stroke", "#d8d8d8")
      .attr("stroke-width", 2.6);

    // MACD panel
    svg
      .append("line")
      .attr("x1", LEFT)
      .attr("x2", RIGHT)
      .attr("y1", yMacd(0))
      .attr("y2", yMacd(0))
      .attr("stroke", "#4a4a4a")
      .attr("stroke-width", 1.6);

    svg
      .append("g")
      .selectAll("rect")
      .data(histogram)
      .join("rect")
      .attr("x", (_, i) => x(weekDate(i)) - bodyW / 2)
      .attr("y", (d) => Math.min(yMacd(d), yMacd(0)))
      .attr("width", bodyW)
      .attr("height", (d) => Math.abs(yMacd(d) - yMacd(0)))
      .attr("fill", (d) => (d >= 0 ? "#7e7e7e" : "#4e4e4e"));

    svg
      .append("path")
      .attr("d", lineOf(yMacd, d3.curveLinear)(signalLine))
      .attr("fill", "none")
      .attr("stroke", "#8a8a8a")
      .attr("stroke-width", 2.2);

    svg
      .append("path")
      .attr("d", lineOf(yMacd, d3.curveLinear)(macdLine))
      .attr("fill", "none")
      .attr("stroke", "#e6e6e6")
      .attr("stroke-width", 2.6);

    // volume panel
    svg
      .append("g")
      .selectAll("rect")
      .data(volumes)
      .join("rect")
      .attr("x", (_, i) => x(weekDate(i)) - bodyW / 2)
      .attr("y", (d) => yVol(d))
      .attr("width", bodyW)
      .attr("height", (d) => yVol(0) - yVol(d))
      .attr("fill", (_, i) => (candles[i][3] >= candles[i][0] ? "#909090" : "#535353"));

    svg
      .append("path")
      .attr("d", lineOf(yVol, d3.curveMonotoneX)(volMA))
      .attr("fill", "none")
      .attr("stroke", "#d6d6d6")
      .attr("stroke-width", 2.2);

    // band edges
    panels.forEach((p) => {
      const [bottom, top] = p.y.range();
      [bandX0, bandX1].forEach((bx) => {
        svg
          .append("line")
          .attr("x1", bx)
          .attr("x2", bx)
          .attr("y1", top)
          .attr("y2", bottom)
          .attr("stroke", green)
          .attr("stroke-width", 3.4);
      });
    });

    // thick target / stop lines from entry to the last bar
    const xEntry = x(weekDate(entryWeek));
    const xLast = x(weekDate(lastWeek));
    [0, 2].forEach((k) => {
      svg
        .append("line")
        .attr("x1", xEntry)
        .attr("x2", xLast)
        .attr("y1", yPrice(levelValues[k]))
        .attr("y2", yPrice(levelValues[k]))
        .attr("stroke", levelColor[k])
        .attr("stroke-width", 7);
    });

    // level labels on the right
    svg
      .append("g")
      .selectAll("text")
      .data(levelValues)
      .join("text")
      .attr("x", 2008)
      .attr("y", (d) => yPrice(d))
      .attr("dominant-baseline", "central")
      .attr("font-size", 20)
      .attr("fill", (_, i) => (i === 1 ? "#e0e0e0" : levelColor[i]))
      .style("white-space", "pre")
      .text((d, i) => `${levelNames[i]}  ${d.toFixed(1)}`);

    // entry / exit markers
    const yEntry = yPrice(levelValues[1]);
    const xExit = x(weekDate(exitWeek));
    const yStop = yPrice(levelValues[2]);
    svg
      .append("line")
      .attr("x1", xEntry + 6)
      .attr("y1", yEntry - 7)
      .attr("x2", xEntry + 33)
      .attr("y2", yEntry - 33)
      .attr("stroke", green)
      .attr("stroke-width", 2);
    svg
      .append("circle")
      .attr("cx", xEntry)
      .attr("cy", yEntry)
      .attr("r", 6)
      .attr("fill", "#000")
      .attr("stroke", green)
      .attr("stroke-width", 3.5);
    svg
      .append("path")
      .attr("d", `M${xExit - 5},${yStop - 5}L${xExit + 5},${yStop + 5}M${xExit - 5},${yStop + 5}L${xExit + 5},${yStop - 5}`)
      .attr("stroke", "#ffc4cf")
      .attr("stroke-width", 2);

    svg
      .append("text")
      .attr("x", xEntry + 32)
      .attr("y", yPrice(levelValues[0]) - 4)
      .attr("font-size", 20)
      .attr("fill", green)
      .text("print");
    svg
      .append("text")
      .attr("x", xEntry + 29)
      .attr("y", yEntry + 16)
      .attr("font-size", 20)
      .attr("fill", "#777")
      .text("exit loss");

    // frames on top
    panels.forEach((p) => {
      const [bottom, top] = p.y.range();
      svg
        .append("rect")
        .attr("x", LEFT)
        .attr("y", top)
        .attr("width", RIGHT - LEFT)
        .attr("height", bottom - top)
        .attr("fill", "none")
        .attr("stroke", "#303030")
        .attr("stroke-width", 2);
    });

    // legends
    const lg = svg.append("g");
    lg.append("line").attr("x1", 187).attr("x2", 228).attr("y1", 184).attr("y2", 184).attr("stroke", "#d8d8d8").attr("stroke-width", 2.6);
    lg.append("text").attr("x", 243).attr("y", 184).attr("dominant-baseline", "central").attr("font-size", 20.5).attr("fill", "#c4c4c4").text("20W EMA");
    lg.append("line").attr("x1", 380).attr("x2", 416).attr("y1", 184).attr("y2", 184).attr("stroke", "#777").attr("stroke-width", 2.2).attr("stroke-dasharray", "7,5");
    lg.append("text").attr("x", 435).attr("y", 184).attr("dominant-baseline", "central").attr("font-size", 20.5).attr("fill", "#c4c4c4").text("50W SMA");

    lg.append("line").attr("x1", 182).attr("x2", 222).attr("y1", 993).attr("y2", 993).attr("stroke", "#e6e6e6").attr("stroke-width", 2.6);
    lg.append("text").attr("x", 237).attr("y", 993).attr("dominant-baseline", "central").attr("font-size", 18).attr("fill", "#aaa").text("MACD");
    lg.append("line").attr("x1", 327).attr("x2", 367).attr("y1", 993).attr("y2", 993).attr("stroke", "#8a8a8a").attr("stroke-width", 2.2);
    lg.append("text").attr("x", 381).attr("y", 993).attr("dominant-baseline", "central").attr("font-size", 18).attr("fill", "#999").text("signal");

    // axis titles
    svg
      .append("text")
      .attr("transform", `translate(67,${(yMacd.range()[0] + yMacd.range()[1]) / 2}) rotate(-90)`)
      .attr("text-anchor", "middle")
      .attr("dominant-baseline", "central")
      .attr("font-size", 18)
      .attr("fill", "#777")
      .text("MACD");
    svg
      .append("text")
      .attr("transform", `translate(50,${(yVol.range()[0] + yVol.range()[1]) / 2}) rotate(-90)`)
      .attr("text-anchor", "middle")
      .attr("dominant-baseline", "central")
      .attr("font-size", 18)
      .attr("fill", "#777")
      .text("vol");

    // title and subtitle
    svg
      .append("g")
      .selectAll("text")
      .data(titleParts)
      .join("text")
      .attr("x", (_, i) => TITLE_X[i])
      .attr("y", 77)
      .attr("text-anchor", (d) => (d === "·" ? "middle" : "start"))
      .attr("font-size", 30.4)
      .attr("fill", "#e4e4e4")
      .text((d) => d);

    svg
      .append("g")
      .selectAll("text")
      .data(subtitleParts)
      .join("text")
      .attr("x", (_, i) => SUBTITLE_X[i])
      .attr("y", 110)
      .attr("font-size", 21.3)
      .attr("fill", "#8a8a8a")
      .text((d) => d);
  }, []);

  return <svg ref={svgRef} style={{ display: "block" }}></svg>;
};

export default App;
